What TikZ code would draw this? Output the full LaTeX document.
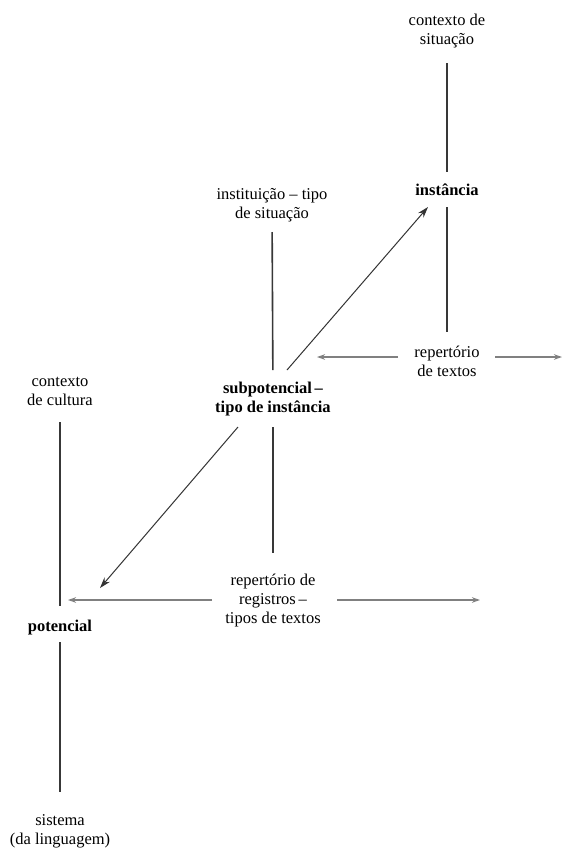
\documentclass[tikz,border=0pt]{standalone}
\usepackage{fontspec}
\setmainfont{Liberation Serif}
\usetikzlibrary{arrows.meta,calc}
\begin{document}
\begin{tikzpicture}[x=1pt,y=-1pt,
  lbl/.style={align=center,inner sep=0pt,font=\fontsize{16.5}{19}\selectfont},
  blbl/.style={lbl,font=\fontsize{16.5}{19}\selectfont\bfseries},
  stem/.style={draw=black!78,line width=1.6pt},
  diag/.style={draw=black!80,line width=1pt,-{Stealth[length=11pt,width=7pt]}},
  garrow/.style={draw=black!50,line width=1.4pt,-{Stealth[length=8pt,width=5.5pt]}}]
\useasboundingbox[fill=white] (0,0) rectangle (563,849);

% labels
\node[lbl]  (ctxsit) at (447,31)  {contexto de\\situação};
\node[blbl] (inst)   at (447,190) {instância};
\node[lbl]  (rept)   at (447,361) {repertório\\de textos};
\node[lbl]  (instit) at (272,205) {instituição – tipo\\de situação};
\node[blbl] (subpot) at (273,399) {subpotencial\,–\\tipo de instância};
\node[lbl]  (ctxcul) at (60,391)  {contexto\\de cultura};
\node[lbl]  (repreg) at (273,601) {repertório de\\registros\,–\\tipos de textos};
\node[blbl] (pot)    at (60,628)  {potencial};
\node[lbl]  (sis)    at (60,831)  {sistema\\(da linguagem)};

% vertical stems, measured from the label centres
\draw[stem,shorten <=32pt,shorten >=18pt] (ctxsit.center) -- (inst.center);
\draw[stem,shorten <=17pt,shorten >=29pt] (inst.center) -- (rept.center);
\draw[stem,shorten <=27pt,shorten >=29pt] (instit.center) -- (subpot.center);
\draw[stem,shorten <=28pt,shorten >=48pt] (subpot.center) -- (repreg.center);
\draw[stem,shorten <=31pt,shorten >=22pt] (ctxcul.center) -- (pot.center);
\draw[stem,shorten <=14pt,shorten >=39pt] (pot.center) -- (sis.center);

% diagonal arrows
\draw[diag] ($(subpot)+(14,-29)$) -- ($(inst)+(-19,17)$);
\draw[diag] ($(subpot)+(-35,28)$) -- ($(pot)+(40,-40)$);

% horizontal arrows
\coordinate (rtL) at (317,357);
\coordinate (rtR) at (562,357);
\coordinate (rgL) at (68,600);
\coordinate (rgR) at (480,600);
\draw[garrow] ($(rept)+(-49,-4)$) -- (rtL);
\draw[garrow] ($(rept)+(48,-4)$) -- (rtR);
\draw[garrow] ($(repreg)+(-61,-1)$) -- (rgL);
\draw[garrow] ($(repreg)+(64,-1)$) -- (rgR);
\end{tikzpicture}
\end{document}
